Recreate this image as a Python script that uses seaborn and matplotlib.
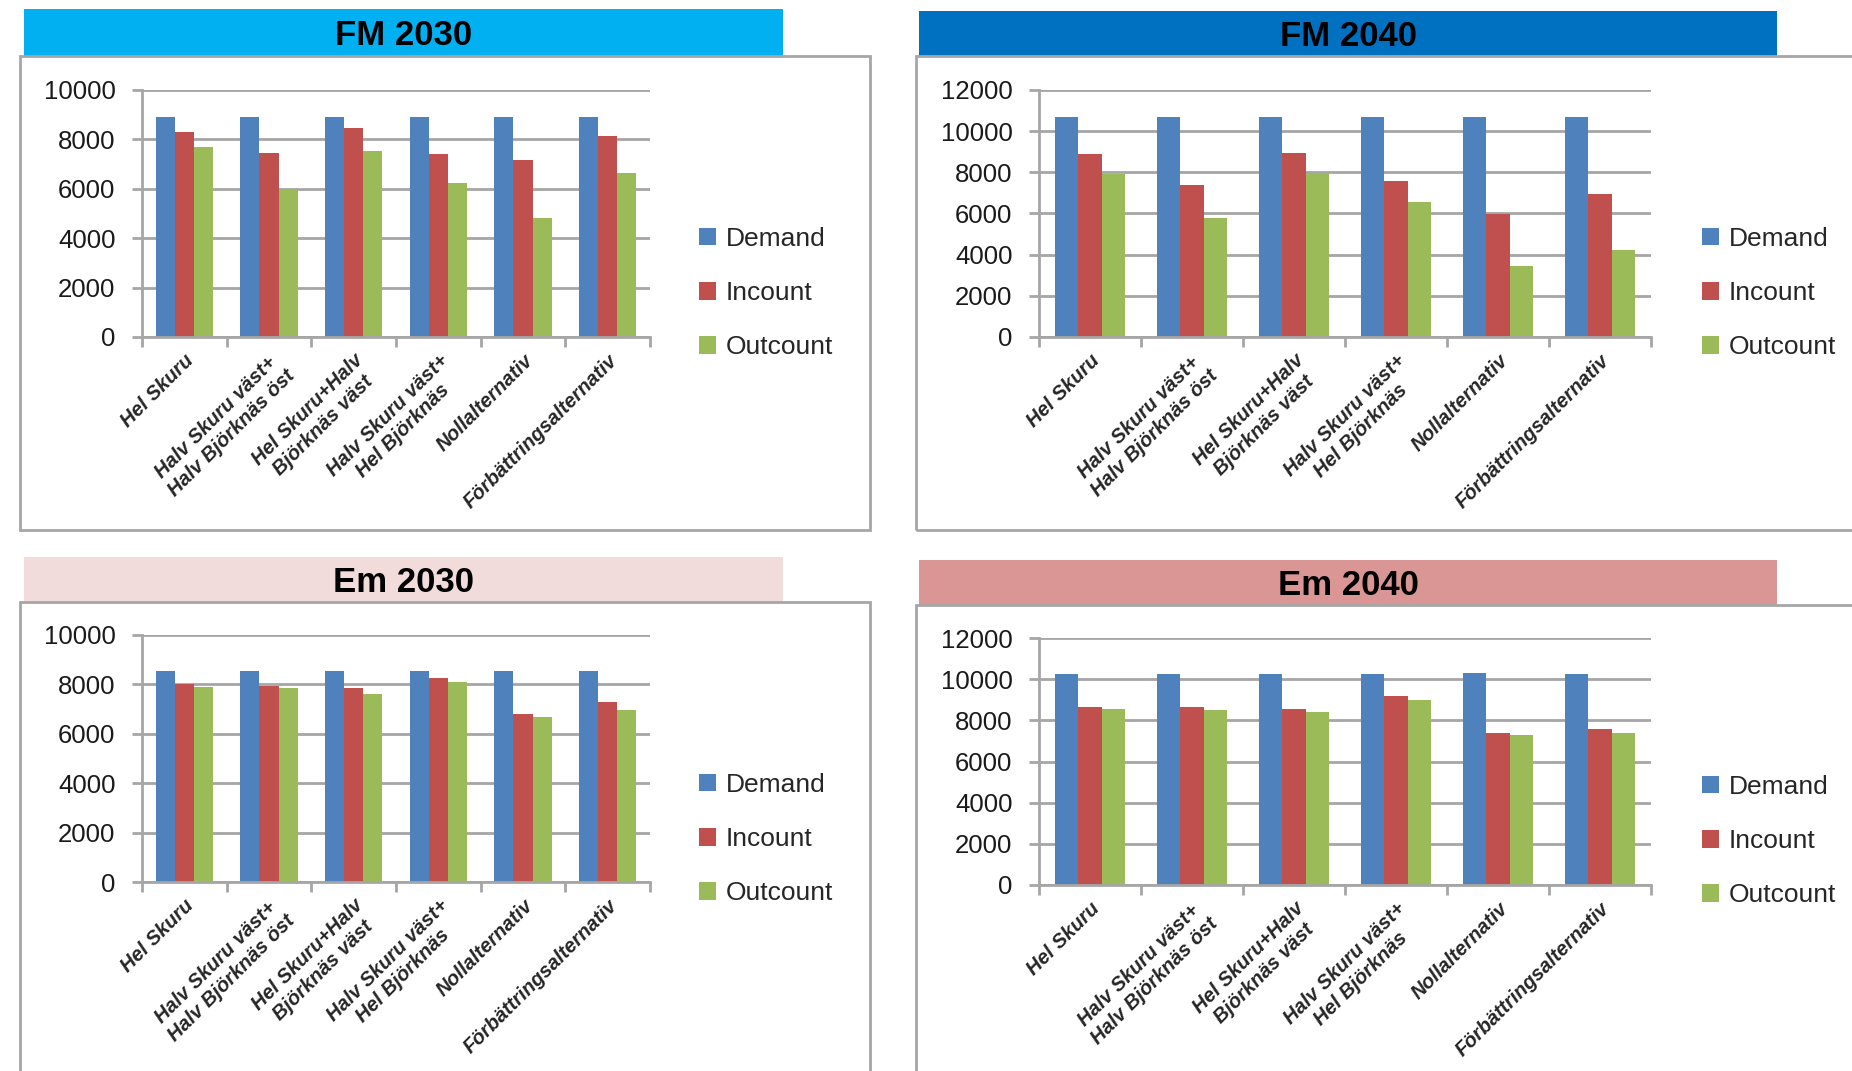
import numpy as np
import pandas as pd
import matplotlib
matplotlib.use("Agg")
import matplotlib.pyplot as plt
from matplotlib.patches import Rectangle
import seaborn as sns

categories = ["Hel Skuru", "Halv Skuru väst+\nHalv Björknäs öst", "Hel Skuru+Halv\nBjörknäs väst",
              "Halv Skuru väst+\nHel Björknäs", "Nollalternativ", "Förbättringsalternativ"]
series = ["Demand", "Incount", "Outcount"]

fm2030_demand = [8900, 8900, 8900, 8900, 8900, 8900]
fm2030_incount = [8300, 7450, 8450, 7400, 7150, 8150]
fm2030_outcount = [7700, 5970, 7530, 6250, 4830, 6630]

fm2040_demand = [10700, 10700, 10700, 10700, 10700, 10700]
fm2040_incount = [8900, 7400, 8920, 7570, 5960, 6960]
fm2040_outcount = [7920, 5760, 7970, 6560, 3470, 4240]

em2030_demand = [8550, 8550, 8550, 8550, 8550, 8550]
em2030_incount = [8000, 7950, 7860, 8270, 6790, 7290]
em2030_outcount = [7880, 7840, 7600, 8110, 6680, 6970]

em2040_demand = [10240, 10240, 10240, 10240, 10300, 10240]
em2040_incount = [8670, 8670, 8540, 9160, 7380, 7600]
em2040_outcount = [8540, 8510, 8410, 8970, 7290, 7380]

titles = ["FM 2030", "FM 2040", "Em 2030", "Em 2040"]
yticks_small = [0, 2000, 4000, 6000, 8000, 10000]
yticks_large = [0, 2000, 4000, 6000, 8000, 10000, 12000]

sns.set_style("white")
plt.rcParams['font.family'] = ['Liberation Sans', 'DejaVu Sans']

W, H = 1852, 1071
fig = plt.figure(figsize=(W / 100, H / 100), dpi=100)
fig.patch.set_facecolor("white")

palette = {"Demand": "#4F81BD", "Incount": "#C0504D", "Outcount": "#9BBB59"}
grid_c = "#A6A6A6"

def frac_rect(x0, y0, x1, y1):
    return [x0 / W, 1 - y1 / H, (x1 - x0) / W, (y1 - y0) / H]

panels = [
    dict(title=titles[0], data=(fm2030_demand, fm2030_incount, fm2030_outcount), yt=yticks_small,
         banner=(24, 9, 783, 56), bcol="#00B0F0", box=(20, 56, 870, 530),
         ax=(142, 90, 650, 337), leg=(699, 293)),
    dict(title=titles[1], data=(fm2040_demand, fm2040_incount, fm2040_outcount), yt=yticks_large,
         banner=(919, 11, 1777, 56), bcol="#0070C0", box=(916, 56, 1900, 530),
         ax=(1039, 90, 1651, 337), leg=(1702, 293)),
    dict(title=titles[2], data=(em2030_demand, em2030_incount, em2030_outcount), yt=yticks_small,
         banner=(24, 557, 783, 602), bcol="#F2DCDB", box=(20, 602, 870, 1100),
         ax=(142, 635, 650, 882), leg=(699, 839)),
    dict(title=titles[3], data=(em2040_demand, em2040_incount, em2040_outcount), yt=yticks_large,
         banner=(919, 560, 1777, 605), bcol="#D99694", box=(916, 605, 1900, 1100),
         ax=(1039, 638, 1651, 885), leg=(1702, 841)),
]

for p in panels:
    bx0, by0, bx1, by1 = p["banner"]
    fig.patches.append(Rectangle((bx0 / W, 1 - by1 / H), (bx1 - bx0) / W, (by1 - by0) / H,
                                 transform=fig.transFigure, facecolor=p["bcol"], edgecolor="none", zorder=0))
    fig.text((bx0 + bx1) / 2 / W, 1 - ((by0 + by1) / 2 + 3) / H, p["title"], ha="center", va="center",
             fontsize=25, fontweight="bold", color="black")
    x0, y0, x1, y1 = p["box"]
    fig.patches.append(Rectangle((x0 / W, 1 - y1 / H), (x1 - x0) / W, (y1 - y0) / H,
                                 transform=fig.transFigure, facecolor="none", edgecolor="#A6A6A6",
                                 linewidth=2, zorder=0))

    d, inc, outc = p["data"]
    df = pd.DataFrame({
        "Category": categories * 3,
        "Series": ["Demand"] * 6 + ["Incount"] * 6 + ["Outcount"] * 6,
        "Value": list(d) + list(inc) + list(outc),
    })
    ax = fig.add_axes(frac_rect(*p["ax"]))
    sns.barplot(data=df, x="Category", y="Value", hue="Series", palette=palette, width=0.68,
                gap=0, saturation=1, ax=ax, edgecolor="none", linewidth=0)
    ax.set_facecolor("none")
    ax.set_xlim(-0.5, 5.5)
    ax.set_ylim(0, p["yt"][-1])
    ax.set_yticks(p["yt"])
    ax.set_yticklabels([str(v) for v in p["yt"]], fontsize=18.5, color="#1a1a1a")
    ax.set_axisbelow(True)
    ax.yaxis.grid(True, color=grid_c, linewidth=2)
    ax.xaxis.grid(False)
    for s in ["top", "right"]:
        ax.spines[s].set_visible(False)
    for s in ["left", "bottom"]:
        ax.spines[s].set_color(grid_c)
        ax.spines[s].set_linewidth(2)
    ax.tick_params(axis="y", length=7, width=2, color=grid_c, pad=12, left=True)
    ax.set_xticks(range(6))
    ax.set_xticks(np.arange(-0.5, 6, 1), minor=True)
    ax.tick_params(axis="x", which="major", length=0, pad=10)
    ax.tick_params(axis="x", which="minor", length=7, width=2, color=grid_c, bottom=True)
    ax.set_xticklabels(categories, rotation=45, ha="right", va="top", rotation_mode="anchor",
                       fontsize=14.5, fontstyle="italic", fontweight="bold", multialignment="center")
    ax.set_xlabel("")
    ax.set_ylabel("")
    lx, ly = p["leg"]
    leg = ax.legend(loc="center left", bbox_to_anchor=(lx / W, 1 - ly / H),
                    bbox_transform=fig.transFigure, frameon=False, fontsize=19,
                    handlelength=0.65, handleheight=0.65, handletextpad=0.35,
                    labelspacing=1.15, borderpad=0, borderaxespad=0)
    for t in leg.get_texts():
        t.set_color("#262626")

fig.savefig("out.png", dpi=100, facecolor="white")
